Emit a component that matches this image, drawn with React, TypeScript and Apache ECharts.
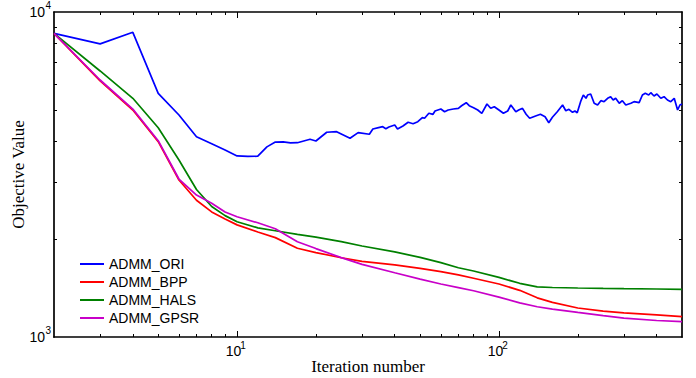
import React, { useEffect, useRef } from "react";
import * as echarts from "echarts";

// ---------- data ----------
const ORI_ITER = [
  2, 3, 4, 5, 6, 7, 8, 9, 10, 11, 12, 13, 14, 15, 16, 17, 19, 20, 22, 24, 27, 29, 32, 33, 35, 36, 37, 38, 40, 41,
  43, 45, 47, 49, 51, 52, 54, 56, 57, 60, 62, 64, 67, 70, 72, 75, 77, 80, 83, 86, 90, 93, 96, 100, 104, 108, 111,
  116, 119, 123, 127, 131, 138, 144, 150, 155, 160, 167, 175, 180, 185, 191, 195, 199, 205, 210, 215, 218, 224,
  231, 238, 245, 252, 260, 267, 273, 279, 288, 296, 305, 319, 328, 343, 353, 362, 373, 380, 391, 401, 415, 427,
  440, 453, 467, 481, 491, 500,
];
const ADMM_ORI = [
  8590, 7980, 8660, 5620, 4820, 4130, 3930, 3760, 3606, 3595, 3600, 3846, 3980, 3985, 3955, 3961, 4058, 4010, 4265,
  4283, 4087, 4253, 4205, 4365, 4418, 4437, 4375, 4428, 4491, 4365, 4459, 4578, 4532, 4597, 4730, 4709, 4879, 4844,
  4959, 5029, 4934, 4994, 5029, 5054, 5148, 5260, 5148, 5076, 4994, 4879, 5212, 5054, 5112, 4994, 4879, 4959, 5174,
  4934, 4994, 5054, 4844, 4709, 4786, 4844, 4762, 4564, 4742, 4934, 5174, 4969, 5019, 4913, 4959, 4899, 5297, 5554,
  5426, 5554, 5593, 5238, 5174, 5335, 5297, 5426, 5489, 5361, 5426, 5238, 5335, 5174, 5238, 5297, 5260, 5554, 5621,
  5554, 5645, 5514, 5593, 5426, 5489, 5361, 5297, 5426, 4994, 5174, 5212,
];

const ITER = [2, 3, 4, 5, 6, 7, 8, 9, 10, 12, 14, 17, 20, 25, 30, 40, 50, 60, 70, 80, 100, 120, 140, 160, 200, 250, 300, 400, 500];
const ADMM_BPP = [
  8600, 6135, 4994, 3990, 3042, 2634, 2426, 2306, 2213, 2104, 2022, 1875, 1819, 1753, 1709, 1668, 1626, 1589, 1553,
  1516, 1456, 1392, 1320, 1278, 1228, 1202, 1186, 1169, 1155,
];
const ADMM_HALS = [
  8600, 6585, 5426, 4406, 3505, 2844, 2521, 2363, 2262, 2167, 2123, 2069, 2030, 1966, 1905, 1827, 1758, 1694, 1633,
  1596, 1525, 1463, 1426, 1420, 1415, 1411, 1408, 1405, 1402,
];
const ADMM_GPSR = [
  8600, 6177, 5029, 4018, 3063, 2734, 2579, 2425, 2345, 2246, 2154, 1963, 1871, 1755, 1673, 1577, 1507, 1456, 1419,
  1388, 1327, 1273, 1239, 1218, 1190, 1163, 1143, 1124, 1115,
];

const SERIES_NAMES = ["ADMM_ORI", "ADMM_BPP", "ADMM_HALS", "ADMM_GPSR"];
const COLORS = ["#0000FF", "#FF0000", "#008000", "#C800C8"];

const X_RANGE = [2, 500];
const Y_RANGE = [1000, 10000];
const X_MAJOR = [10, 100];
const X_MINOR = [3, 4, 5, 6, 7, 8, 9, 20, 30, 40, 50, 60, 70, 80, 90, 200, 300, 400];
const Y_MAJOR = [1000, 10000];
const Y_MINOR = [2000, 3000, 4000, 5000, 6000, 7000, 8000, 9000];

const X_TITLE = "Iteration number";
const Y_TITLE = "Objective Value";

// ---------- helpers ----------
const LOG = (v: number) => Math.log10(v);
const SANS = "'Liberation Sans', Arial, Helvetica, sans-serif";
const SERIF = "'Liberation Serif', 'Times New Roman', serif";

function makeAxis(kind: "x" | "y", position: string, ticks: number[], tickLen: number, showLine: boolean, extra: any = {}) {
  const [lo, hi] = kind === "x" ? X_RANGE : Y_RANGE;
  return {
    type: "value",
    position,
    min: LOG(lo),
    max: LOG(hi),
    axisLine: { show: showLine, onZero: false, lineStyle: { color: "#000", width: 1.7 } },
    axisTick: {
      show: true,
      inside: true,
      length: tickLen,
      customValues: ticks.map(LOG),
      lineStyle: { color: "#000", width: 1 },
    },
    axisLabel: { show: false },
    splitLine: { show: false },
    ...extra,
  };
}

function txt(x: number, y: number, text: string, size: number, align: string) {
  return {
    type: "text",
    x,
    y,
    style: {
      text,
      fontSize: size,
      fontFamily: SANS,
      fill: "#000",
      align,
      textAlign: align,
      verticalAlign: "middle",
      textVerticalAlign: "middle",
    },
  };
}

export default function App() {
  const ref = useRef<HTMLDivElement>(null);

  useEffect(() => {
    if (!ref.current) return;
    const chart = echarts.init(ref.current, null, { renderer: "svg" });

    const seriesData = [
      ORI_ITER.map((x, i) => [LOG(x), LOG(ADMM_ORI[i])]),
      ITER.map((x, i) => [LOG(x), LOG(ADMM_BPP[i])]),
      ITER.map((x, i) => [LOG(x), LOG(ADMM_HALS[i])]),
      ITER.map((x, i) => [LOG(x), LOG(ADMM_GPSR[i])]),
    ];

    const lineSeries = SERIES_NAMES.map((name, i) => ({
      name,
      type: "line",
      xAxisIndex: 0,
      yAxisIndex: 0,
      data: seriesData[i],
      symbol: "none",
      showSymbol: false,
      smooth: false,
      lineStyle: { color: COLORS[i], width: 1.7 },
      itemStyle: { color: COLORS[i] },
      emphasis: { disabled: true },
      z: 2 + i,
    }));

    // tick labels 10^n drawn through the axes' own coordinate mapping
    const xLabelSeries = {
      type: "custom",
      name: "xTickLabels",
      xAxisIndex: 0,
      yAxisIndex: 0,
      silent: true,
      clip: false,
      z: 10,
      data: X_MAJOR.map((v) => [LOG(v), LOG(Y_RANGE[0])]),
      renderItem: (_p: any, api: any) => {
        const pt = api.coord([api.value(0), api.value(1)]);
        const exp = String(Math.round(api.value(0)));
        return {
          type: "group",
          children: [txt(pt[0] - 3.5, pt[1] + 14, "10", 14, "center"), txt(pt[0] + 6, pt[1] + 8, exp, 10, "center")],
        };
      },
    };
    const yLabelSeries = {
      type: "custom",
      name: "yTickLabels",
      xAxisIndex: 0,
      yAxisIndex: 0,
      silent: true,
      clip: false,
      z: 10,
      data: Y_MAJOR.map((v) => [LOG(X_RANGE[0]), LOG(v)]),
      renderItem: (_p: any, api: any) => {
        const pt = api.coord([api.value(0), api.value(1)]);
        const exp = String(Math.round(api.value(1)));
        return {
          type: "group",
          children: [txt(pt[0] - 9, pt[1], "10", 14, "right"), txt(pt[0] - 8.5, pt[1] - 6.5, exp, 10, "left")],
        };
      },
    };

    chart.setOption({
      animation: false,
      backgroundColor: "#fff",
      grid: { left: 54, right: 14, top: 12, bottom: 41, containLabel: false, outerBoundsMode: "none" },
      legend: {
        orient: "vertical",
        left: 80,
        top: 257,
        padding: 0,
        icon: "rect",
        itemWidth: 24,
        itemHeight: 2,
        itemGap: 4,
        textStyle: { fontSize: 14, fontFamily: SANS, color: "#000" },
        data: SERIES_NAMES,
      },
      xAxis: [
        makeAxis("x", "bottom", X_MINOR, 3, true, {
          name: X_TITLE,
          nameLocation: "middle",
          nameGap: 21,
          nameTextStyle: { fontFamily: SERIF, fontSize: 17, color: "#000" },
        }),
        makeAxis("x", "bottom", X_MAJOR, 6, false),
        makeAxis("x", "top", X_MINOR, 3, true),
        makeAxis("x", "top", X_MAJOR, 6, false),
      ],
      yAxis: [
        makeAxis("y", "left", Y_MINOR, 3, true, {
          name: Y_TITLE,
          nameLocation: "middle",
          nameGap: 27,
          nameRotate: 90,
          nameTextStyle: { fontFamily: SERIF, fontSize: 17, color: "#000" },
        }),
        makeAxis("y", "right", Y_MINOR, 3, true),
      ],
      series: [...lineSeries, xLabelSeries, yLabelSeries],
    });

    return () => chart.dispose();
  }, []);

  return (
    <div ref={ref} style={{ position: "fixed", left: 0, top: 0, width: 696, height: 378, background: "#fff" }} />
  );
}
